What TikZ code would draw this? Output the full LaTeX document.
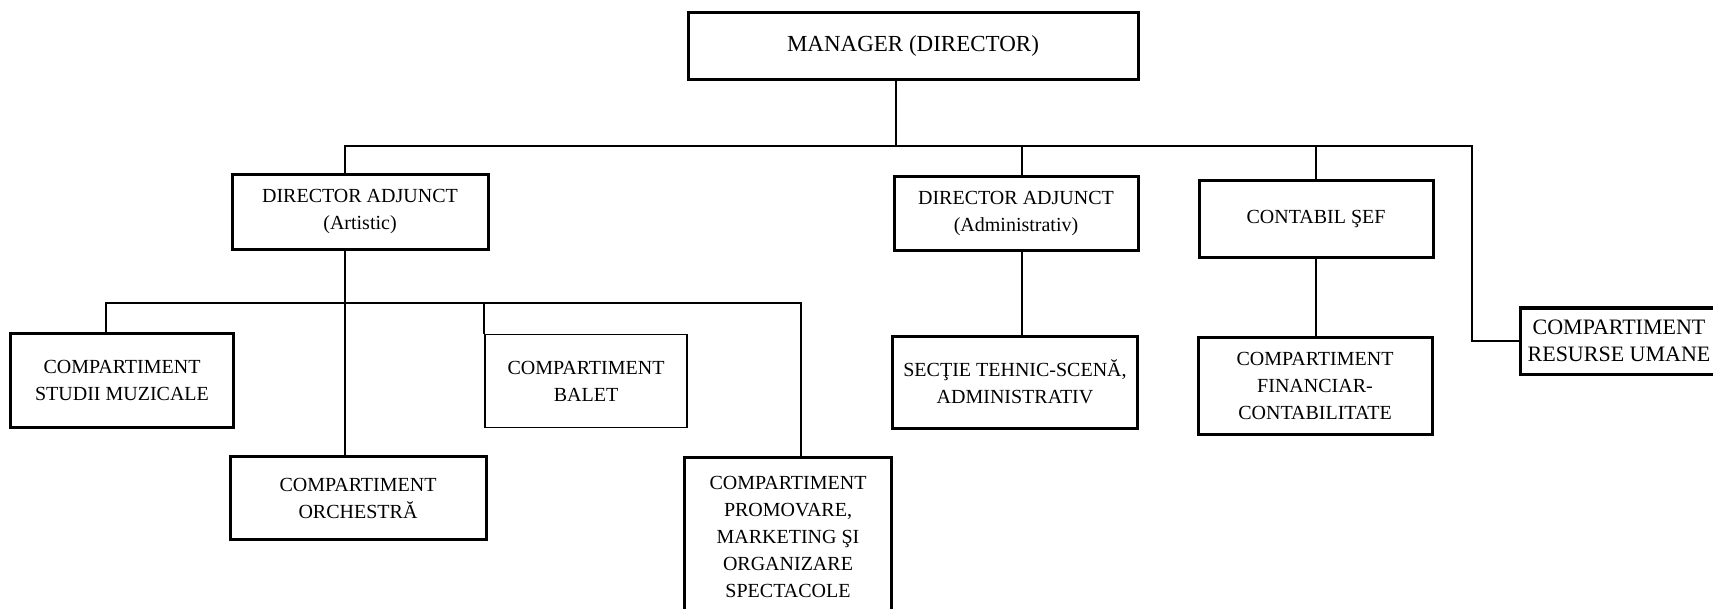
\documentclass[tikz,border=0pt]{standalone}
\usepackage{fontspec}
\setmainfont{Liberation Serif}

\begin{document}
\begin{tikzpicture}[x=0.5pt, y=-0.5pt,
  box/.style={draw, line width=1.5pt, align=center, inner sep=1pt, font=\fontsize{10}{13.5}\selectfont},
  thinbox/.style={box, line width=0.9pt},
  link/.style={line width=0.9pt}]
  \useasboundingbox (0,0) rectangle (1713,609);
  \clip (0,0) rectangle (1713,609);
  \node[box, minimum width=225pt, minimum height=33.5pt, font=\fontsize{11.5}{14}\selectfont] (mgr) at (913,46) {MANAGER (DIRECTOR)};
  \node[box, minimum width=128pt, minimum height=37.5pt] (daart) at (360,212) {DIRECTOR ADJUNCT\\(Artistic)};
  \node[box, minimum width=122pt, minimum height=37pt] (daadm) at (1016,214) {DIRECTOR ADJUNCT\\(Administrativ)};
  \node[box, minimum width=117pt, minimum height=38.5pt] (cont) at (1316,219) {CONTABIL ŞEF};
  \node[box, minimum width=99pt, minimum height=33pt, font=\fontsize{11}{13.5}\selectfont] (hr) at (1619,341) {COMPARTIMENT\\RESURSE UMANE};
  \node[box, minimum width=111.5pt, minimum height=47pt] (stud) at (122,380) {COMPARTIMENT\\STUDII MUZICALE};
  \node[box, minimum width=128pt, minimum height=41.5pt] (orch) at (358,498) {COMPARTIMENT\\ORCHESTRĂ};
  \node[thinbox, minimum width=101pt, minimum height=46.5pt] (balet) at (586,381) {COMPARTIMENT\\BALET};
  \node[box, minimum width=103.5pt, minimum height=80pt] (prom) at (788,537) {COMPARTIMENT\\PROMOVARE,\\MARKETING ŞI\\ORGANIZARE\\SPECTACOLE};
  \node[box, minimum width=122.5pt, minimum height=46pt] (sect) at (1015,382) {SECŢIE TEHNIC-SCENĂ,\\ADMINISTRATIV};
  \node[box, minimum width=117pt, minimum height=48.5pt] (fin) at (1315,386) {COMPARTIMENT\\FINANCIAR-\\CONTABILITATE};

  \coordinate (jm) at (896,146);
  \coordinate (ja) at (345,146);
  \coordinate (jd) at (1022,146);
  \coordinate (jc) at (1316,146);
  \coordinate (jh) at (1472,146);
  \coordinate (ks) at (106,303);
  \coordinate (kp) at (801,303);

  \draw[link] (mgr.south -| jm) -- (jm);
  \draw[link] (daart.north -| ja) -- (ja) -- (jh) |- (hr.west);
  \draw[link] (jd) -- (daadm.north -| jd);
  \draw[link] (jc) -- (cont.north -| jc);
  \draw[link] (daadm.south -| jd) -- (sect.north -| jd);
  \draw[link] (cont.south -| jc) -- (fin.north -| jc);
  \draw[link] (daart.south -| ja) -- (orch.north -| ja);
  \draw[link] (stud.north -| ks) -- (ks) -- (kp) -- (prom.north -| kp);
  \draw[link] (balet.north west |- ks) -- (balet.north west);
\end{tikzpicture}
\end{document}
